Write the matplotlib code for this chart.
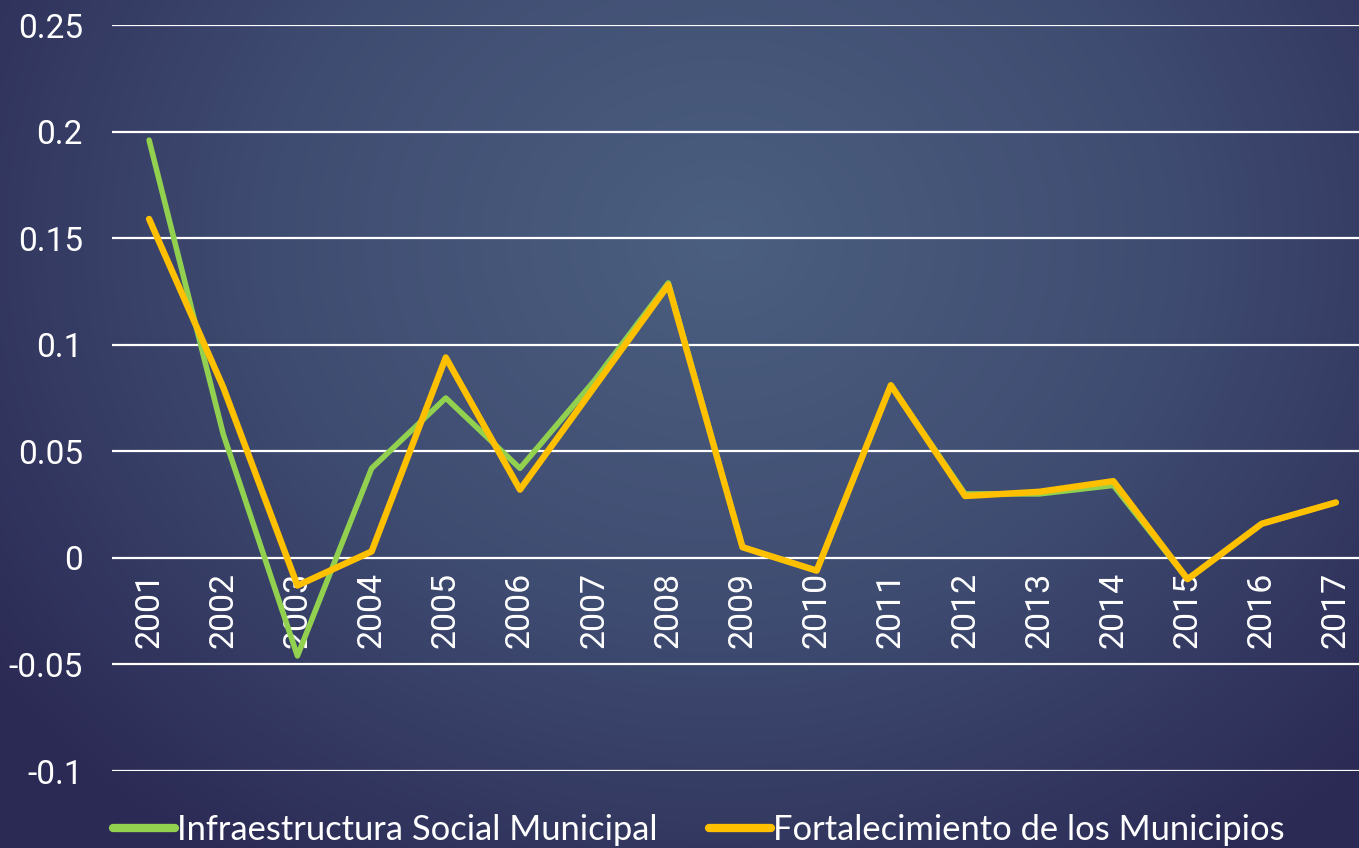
import numpy as np
import matplotlib
matplotlib.use("Agg")
import matplotlib.pyplot as plt
from matplotlib.colors import LinearSegmentedColormap

years = ["2001", "2002", "2003", "2004", "2005", "2006", "2007", "2008", "2009",
         "2010", "2011", "2012", "2013", "2014", "2015", "2016", "2017"]
infraestructura = [0.196, 0.058, -0.046, 0.042, 0.075, 0.042, 0.083, 0.129, 0.005,
                   -0.006, 0.081, 0.030, 0.030, 0.034, -0.010, 0.016, 0.026]
fortalecimiento = [0.159, 0.080, -0.013, 0.003, 0.094, 0.032, 0.080, 0.128, 0.005,
                   -0.006, 0.081, 0.029, 0.031, 0.036, -0.010, 0.016, 0.026]
yticks = [-0.1, -0.05, 0, 0.05, 0.1, 0.15, 0.2, 0.25]
ytick_labels = ["-0.1", "-0.05", "0", "0.05", "0.1", "0.15", "0.2", "0.25"]
series_names = ["Infraestructura Social Municipal", "Fortalecimiento de los Municipios"]
colors = ["#92d050", "#ffc000"]

W, H = 1359, 848
fig = plt.figure(figsize=(W / 100, H / 100), dpi=100)

# radial gradient background
bg = fig.add_axes([0, 0, 1, 1])
bg.set_axis_off()
yy, xx = np.mgrid[0:H, 0:W]
cx, cy = 720, 240
r = np.sqrt(((xx - cx) / 900.0) ** 2 + ((yy - cy) / 760.0) ** 2)
r = np.clip(r, 0, 1)
cmap = LinearSegmentedColormap.from_list("bg", ["#4b5f80", "#3f4c71", "#2b2a55"])
bg.imshow(r, cmap=cmap, vmin=0, vmax=1, aspect="auto", extent=[0, W, H, 0])
bg.set_xlim(0, W)
bg.set_ylim(H, 0)

left = 112 / W
right = 1373 / W
bottom = 1 - 771 / H
top = 1 - 25 / H
ax = fig.add_axes([left, bottom, right - left, top - bottom])
ax.patch.set_alpha(0)

x = np.arange(len(years))
ax.set_xlim(-0.5, len(years) - 0.5)
ax.set_ylim(-0.1, 0.25)
ax.set_yticks(yticks)
ax.set_yticklabels(ytick_labels, fontfamily="Roboto")
ax.grid(axis="y", color="white", linewidth=1.6)
ax.set_axisbelow(True)
for s in ax.spines.values():
    s.set_visible(False)
ax.tick_params(axis="y", length=0, pad=21, labelcolor="white", labelsize=24)

ax.spines["bottom"].set_position(("data", 0))
ax.set_xticks(x)
ax.set_xticklabels(years, rotation=90, fontfamily="Roboto")
ax.tick_params(axis="x", length=0, pad=10, labelcolor="white", labelsize=24.5)

ax.plot(x, infraestructura, color=colors[0], linewidth=4.0, solid_capstyle="round",
        solid_joinstyle="round", label=series_names[0], zorder=3)
ax.plot(x, fortalecimiento, color=colors[1], linewidth=4.6, solid_capstyle="round",
        solid_joinstyle="round", label=series_names[1], zorder=4)

leg = fig.legend(loc="center left", bbox_to_anchor=(113 / W, 1 - 830 / H), ncol=2,
                 frameon=False, handlelength=1.8, handletextpad=0.05,
                 columnspacing=1.5, borderaxespad=0, borderpad=0,
                 prop={"family": "Lato", "size": 24.8})
for t in leg.get_texts():
    t.set_color("white")
for h in leg.legend_handles:
    h.set_linewidth(6)
    h.set_solid_capstyle("round")

fig.savefig("out.png", dpi=100)
